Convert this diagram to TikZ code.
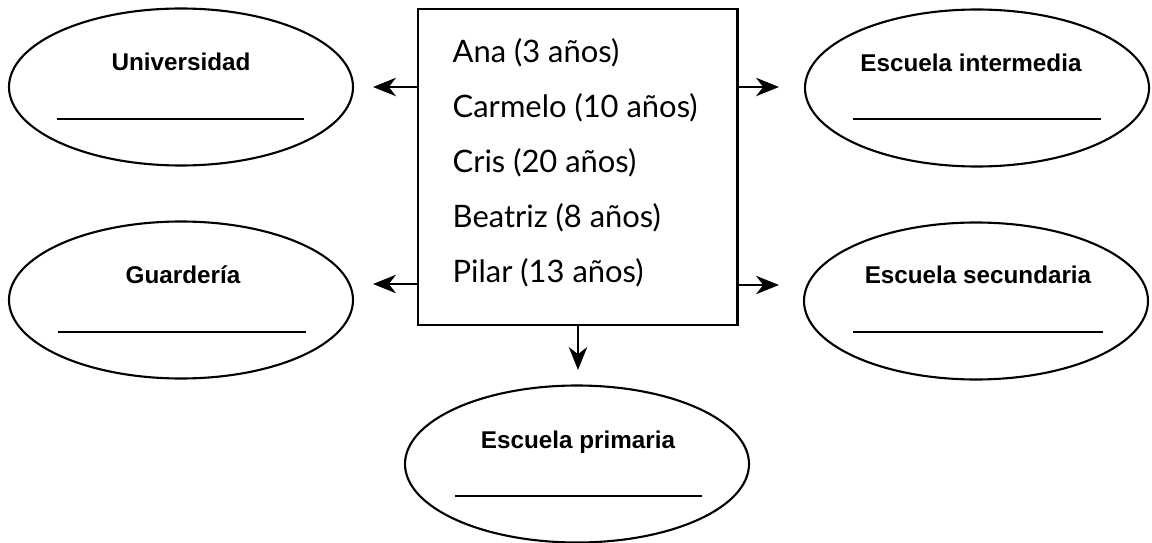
\documentclass[tikz,border=0pt]{standalone}
\usepackage{fontspec}
\setmainfont{Lato}
\newfontfamily\rotulofont{Liberation Sans}
\usetikzlibrary{shapes.geometric,arrows.meta,positioning}
\tikzset{
    escuela/.style={draw, ellipse, line width=0.6pt, inner sep=0pt,
        minimum width=3.44cm, minimum height=1.57cm},
    rotulo/.style={font=\rotulofont\bfseries\fontsize{6.9}{8}\selectfont,
        anchor=base, inner sep=0pt},
    edad/.style={font=\fontsize{8.8}{10}\selectfont, anchor=base west, inner sep=0pt},
    flecha/.style={-{Stealth[length=6.5pt,width=5.2pt,inset=2pt]}, line width=0.75pt},
    raya/.style={line width=0.5pt}
}
\begin{document}
\begin{tikzpicture}
    \useasboundingbox (0,0) rectangle (11.52,-5.43);
    % lista de personas
    \node[draw, line width=0.85pt, inner sep=0pt, minimum width=3.19cm,
        minimum height=3.16cm] (lista) at (5.775,-1.67) {};
    \foreach \nombre [count=\i from 0] in {Ana (3 años), Carmelo (10 años),
        Cris (20 años), Beatriz (8 años), Pilar (13 años)}
        {
            \node[edad] (persona\i) at (4.52,-0.63-0.548*\i) {\nombre};
        }
    % escuelas
    \node[escuela] (univ) at (1.81,-0.87) {};
    \node[escuela] (guard) at (1.81,-3.00) {};
    \node[escuela] (inter) at (9.77,-0.88) {};
    \node[escuela] (secun) at (9.76,-3.01) {};
    \node[escuela] (prim) at (5.77,-4.64) {};
    \node[rotulo] (univ-t) at (1.81,-0.71) {Universidad};
    \node[rotulo] (guard-t) at (1.83,-2.83) {Guardería};
    \node[rotulo] (inter-t) at (9.71,-0.72) {Escuela intermedia};
    \node[rotulo] (secun-t) at (9.78,-2.83) {Escuela secundaria};
    \node[rotulo] (prim-t) at (5.78,-4.48) {Escuela primaria};
    \draw[raya] (0.57,-1.19) -- (3.04,-1.19);
    \draw[raya] (0.58,-3.32) -- (3.06,-3.32);
    \draw[raya] (8.53,-1.19) -- (11.01,-1.19);
    \draw[raya] (8.53,-3.32) -- (11.03,-3.32);
    \draw[raya] (4.55,-4.96) -- (7.02,-4.96);
    % flechas
    \coordinate (a-univ) at (3.73,-0.87);
    \coordinate (a-guard) at (3.73,-2.84);
    \coordinate (a-inter) at (7.79,-0.87);
    \coordinate (a-secun) at (7.79,-2.85);
    \coordinate (a-prim) at (5.78,-3.70);
    \draw[flecha] (lista.west |- a-univ) -- (a-univ);
    \draw[flecha] (lista.west |- a-guard) -- (a-guard);
    \draw[flecha] (lista.east |- a-inter) -- (a-inter);
    \draw[flecha] (lista.east |- a-secun) -- (a-secun);
    \draw[flecha] (lista.south -| a-prim) -- (a-prim);
\end{tikzpicture}
\end{document}
